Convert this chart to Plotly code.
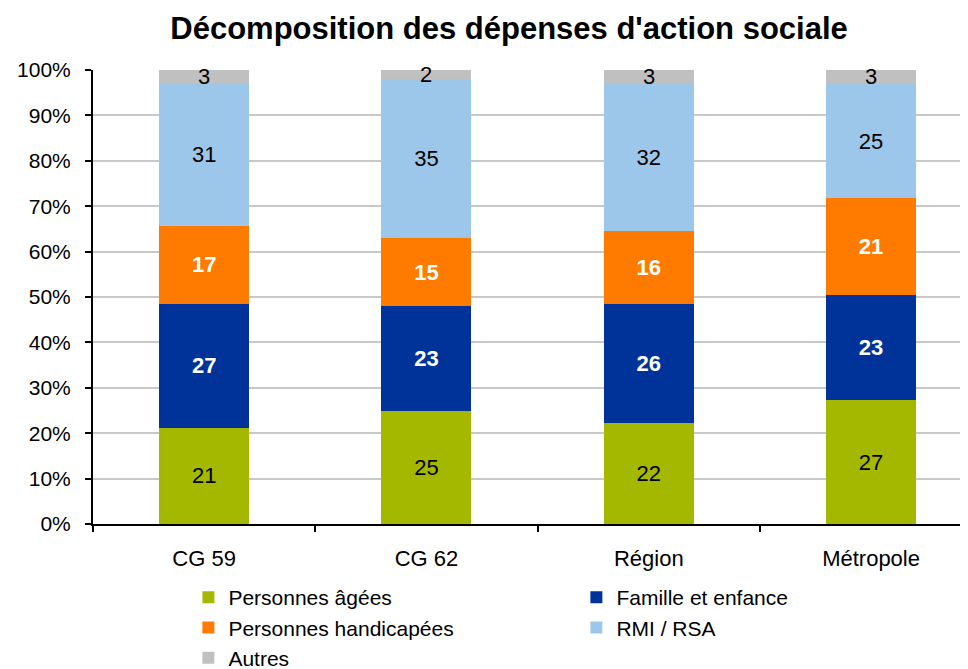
import plotly.graph_objects as go

categories = ["CG 59", "CG 62", "Région", "Métropole"]
series_names = ["Personnes âgées", "Famille et enfance", "Personnes handicapées", "RMI / RSA", "Autres"]
personnes_agees = [21, 25, 22, 27]
famille_enfance = [27, 23, 26, 23]
personnes_handicapees = [17, 15, 16, 21]
rmi_rsa = [31, 35, 32, 25]
autres = [3, 2, 3, 3]
y_tick_values = [0, 10, 20, 30, 40, 50, 60, 70, 80, 90, 100]
y_tick_labels = ["0%", "10%", "20%", "30%", "40%", "50%", "60%", "70%", "80%", "90%", "100%"]

colors = ["#a5b800", "#00339a", "#ff7b00", "#9dc7ea", "#c0c0c0"]
text_colors = ["#000000", "#ffffff", "#ffffff", "#000000", "#000000"]
FONT = "Liberation Sans, Arial, sans-serif"

all_series = [personnes_agees, famille_enfance, personnes_handicapees, rmi_rsa, autres]

fig = go.Figure()
for i, (name, vals) in enumerate(zip(series_names, all_series)):
    is_last = i == len(all_series) - 1
    bold = text_colors[i] == "#ffffff"
    fig.add_trace(go.Bar(
        name=name,
        x=categories,
        y=vals,
        width=0.405,
        marker=dict(color=colors[i], line=dict(width=0)),
        text=[f"<b>{v}</b>" if bold else str(v) for v in vals],
        textposition="none" if is_last else "inside",
        insidetextanchor="middle",
        textangle=0,
        textfont=dict(family=FONT, size=22, color=text_colors[i]),
        hoverinfo="skip",
    ))

# labels for the thin "Autres" segment
totals = [sum(s[k] for s in all_series) for k in range(len(categories))]
for k, cat in enumerate(categories):
    fig.add_annotation(
        x=cat, y=100 - autres[k] / totals[k] * 100 / 2,
        text=str(autres[k]), showarrow=False,
        font=dict(family=FONT, size=22, color="#000000"),
        yanchor="middle",
    )

fig.update_layout(
    barmode="stack",
    barnorm="percent",
    width=968, height=669,
    margin=dict(l=85, r=8, t=62, b=153, autoexpand=False),
    paper_bgcolor="white",
    plot_bgcolor="white",
    font=dict(family=FONT, size=22, color="#000000"),
    title=dict(
        text="<b>Décomposition des dépenses d'action sociale</b>",
        font=dict(family=FONT, size=31, color="#000000"),
        x=0.5176, xanchor="center",
        y=0.970, yanchor="middle",
    ),
    showlegend=True,
    legend=dict(
        orientation="h",
        x=0.109, xanchor="left",
        yref="container",
        y=1 - 569 / 669, yanchor="top",
        traceorder="normal",
        entrywidth=343, entrywidthmode="pixels",
        font=dict(family=FONT, size=21, color="#000000"),
        bgcolor="rgba(0,0,0,0)",
        itemclick=False,
    ),
)

fig.update_xaxes(
    range=[-0.5, 3.436],
    automargin=False,
    showline=True, linecolor="#000000", linewidth=2,
    ticks="outside", tickson="boundaries", ticklen=6, tickwidth=2, tickcolor="#000000",
    tickfont=dict(family=FONT, size=22, color="#000000"),
    ticklabelstandoff=14,
    showgrid=False, zeroline=False,
)
fig.update_yaxes(
    range=[0, 100],
    automargin=False,
    tickvals=y_tick_values, ticktext=y_tick_labels,
    showline=True, linecolor="#000000", linewidth=2,
    ticks="outside", ticklen=6, tickwidth=2, tickcolor="#000000",
    tickfont=dict(family=FONT, size=21, color="#000000"),
    ticklabelstandoff=10,
    showgrid=True, gridcolor="#c8c8c8", gridwidth=2,
    zeroline=False,
)

fig.write_html("out.html")
